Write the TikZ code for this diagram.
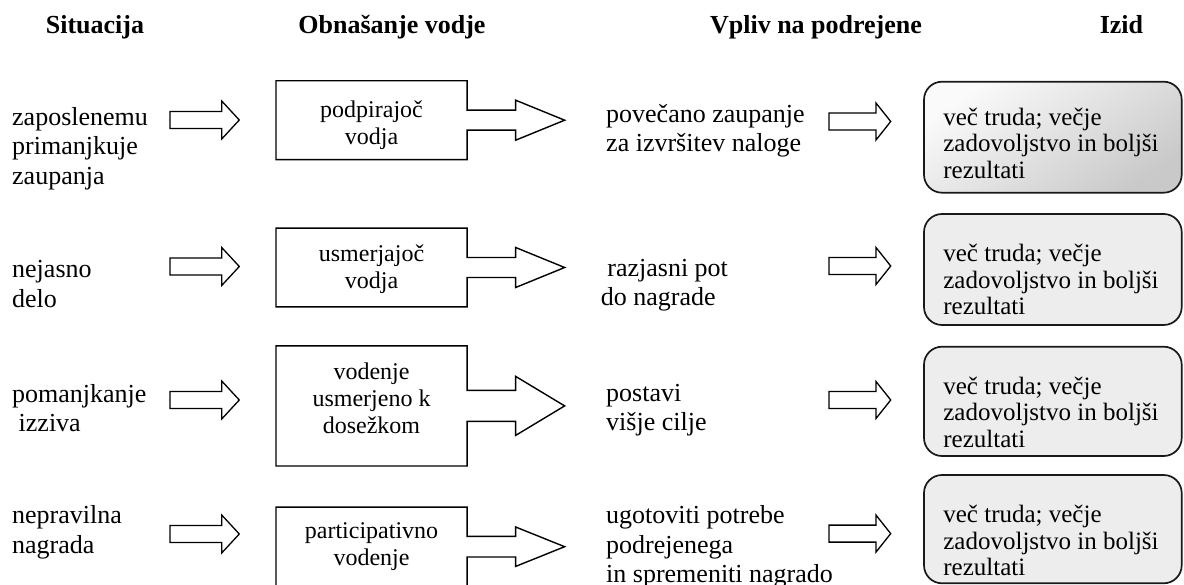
\documentclass[tikz,border=0pt]{standalone}
\usepackage{fontspec}
\setmainfont{Liberation Serif}

% hollow block arrow: start point (middle of the tail), total length,
% head length, half shaft width, half head width
\newcommand\hollowarrow[5]{%
  \filldraw[hollowline] (#1) ++(0,-#4) -- ++({#2-#3},0) -- ++(0,{#4-#5})
    -- ++(#3,#5) -- ++(-#3,#5) -- ++(0,{#4-#5}) -- ++({#3-#2},0) -- cycle;}

% outline of a leader box together with the arrow leaving its east side:
% box name, half shaft width, half head width
\newcommand\leaderoutline[3]{%
  \draw[outline] (#1.south west) -- (#1.north west) -- (#1.north east)
    -- ([yshift=#2pt]#1.east) -- ++(48.6,0) -- ++(0,{#2-#3})
    -- ++(49,#3) -- ++(-49,#3) -- ++(0,{#2-#3})
    -- ([yshift=-#2pt]#1.east) -- (#1.south east) -- cycle;}

\begin{document}
\begin{tikzpicture}[x=1pt,y=-1pt,
  colhead/.style={anchor=base, inner sep=0pt, font=\fontsize{26}{30}\selectfont\bfseries},
  plaintext/.style={anchor=north west, align=left, inner sep=0pt,
    font=\fontsize{26}{29.5}\selectfont},
  leader/.style={inner sep=0pt, minimum width=190.7pt},
  leadertext/.style={align=center, inner sep=0pt, font=\fontsize{24}{27}\selectfont},
  outline/.style={draw=black, line width=1.4pt, line join=miter},
  outbox/.style={draw=black!90, line width=1.7pt, rounded corners=18pt, fill=gray!14,
    inner sep=0pt, minimum width=257.7pt},
  outtext/.style={anchor=north west, align=left, inner sep=0pt,
    font=\fontsize{25}{26.5}\selectfont},
  hollowline/.style={draw=black, line width=1.3pt, fill=white, line join=miter},
]
\useasboundingbox (0,0) rectangle (1184,585);

% column headings
\node[colhead] (h1) at (95,34) {Situacija};
\node[colhead] (h2) at (392,34) {Obnašanje vodje};
\node[colhead] (h3) at (816,34) {Vpliv na podrejene};
\node[colhead] (h4) at (1121.5,34) {Izid};

% situations
\node[plaintext] (s1) at (12,107.2) {zaposlenemu\\primanjkuje\\zaupanja};
\node[plaintext] (s2) at (12,260.5) {nejasno\\delo};
\node[plaintext] (s3) at (12,383.9) {pomanjkanje\\\ izziva};
\node[plaintext] (s4) at (12,505.5) {nepravilna\\nagrada};

% arrows from situation to leader behaviour
\coordinate (l1) at (170,120);
\coordinate (l2) at (170,266.5);
\coordinate (l3) at (170,400);
\coordinate (l4) at (170,534);
\hollowarrow{l1}{69.3}{17.6}{8.5}{19}
\hollowarrow{l2}{69.3}{17.6}{8.5}{19}
\hollowarrow{l3}{69.3}{17.6}{8.5}{19}
\hollowarrow{l4}{69.3}{17.6}{8.5}{19}

% leader behaviour boxes, each drawn as one outline with its outgoing arrow
\node[leader, minimum height=78.4pt] (b1) at (371.5,120.2) {};
\node[leader, minimum height=78.4pt] (b2) at (371.5,267.5) {};
\node[leader, minimum height=119.7pt] (b3) at (371.5,405.9) {};
\node[leader, minimum height=78.7pt] (b4) at (371.5,546.7) {};
\leaderoutline{b1}{10}{20}
\leaderoutline{b2}{10}{20}
\leaderoutline{b3}{15.5}{29.5}
\leaderoutline{b4}{10.3}{19.7}
\node[leadertext] (bt1) at ([yshift=-5pt]b1.center) {podpirajoč\\vodja};
\node[leadertext] (bt2) at ([yshift=-1.5pt]b2.center) {usmerjajoč\\vodja};
\node[leadertext] (bt3) at ([yshift=8pt]b3.center) {vodenje\\usmerjeno k\\dosežkom};
\node[leadertext] (bt4) at (b4.center) {participativno\\vodenje};

% effect on subordinates
\node[plaintext] (e1) at (606,103.9) {povečano zaupanje\\za izvršitev naloge};
\node[plaintext] (e2) at (600.7,258.9) {\ razjasni pot\\do nagrade};
\node[plaintext] (e3) at (606,383.9) {postavi\\višje cilje};
\node[plaintext] (e4) at (606,505.5) {ugotoviti potrebe\\podrejenega\\in spremeniti nagrado};

% arrows from effect to outcome
\coordinate (r1) at (829,121.5);
\coordinate (r2) at (829,266);
\coordinate (r3) at (829,400);
\coordinate (r4) at (829,533.6);
\hollowarrow{r1}{61.7}{14.7}{8.5}{18.5}
\hollowarrow{r2}{61.7}{14.7}{8.5}{18.5}
\hollowarrow{r3}{61.7}{14.7}{8.5}{18.5}
\hollowarrow{r4}{61.7}{14.7}{8.5}{18.5}

% outcomes
\node[outbox, minimum height=111pt, top color=gray!4, bottom color=gray!42,
  shading angle=35] (o1) at (1052.85,137.2) {};
\node[outbox, minimum height=111pt] (o2) at (1052.85,269.5) {};
\node[outbox, minimum height=109.3pt] (o3) at (1052.85,401.35) {};
\node[outbox, minimum height=108.3pt] (o4) at (1052.85,529.15) {};
\node[outtext] (to1) at ([xshift=20pt,yshift=-27pt]o1.north west)
  {več truda; večje\\zadovoljstvo in boljši\\rezultati};
\foreach \o in {o2,o3,o4}
  \node[outtext] (t\o) at ([xshift=20pt,yshift=-31pt]\o.north west)
    {več truda; večje\\zadovoljstvo in boljši\\rezultati};
\end{tikzpicture}
\end{document}
